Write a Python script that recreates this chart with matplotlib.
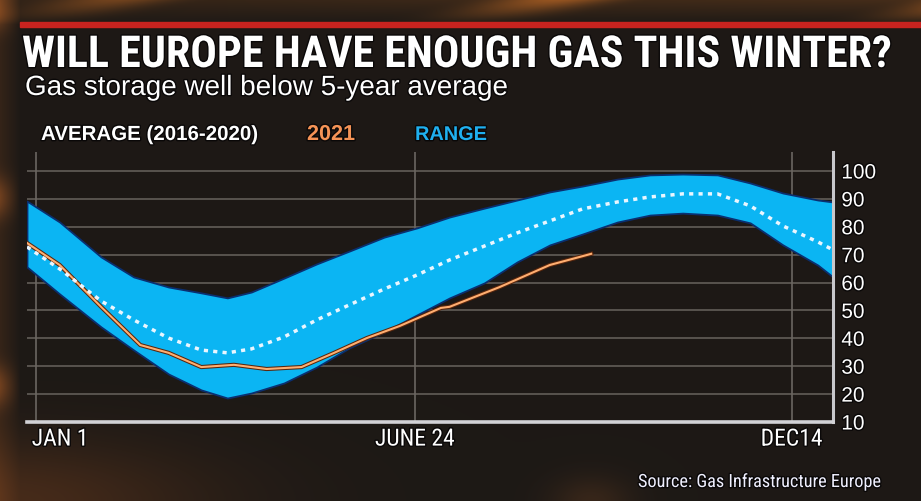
import numpy as np
import matplotlib
matplotlib.use("Agg")
import matplotlib.pyplot as plt
from matplotlib import font_manager
from matplotlib.patches import Rectangle
import matplotlib.patheffects as pe
import matplotlib.transforms as mtransforms

# ---------------- data (day of year, % storage full) ----------------
range_days = [-3, 12, 31, 46, 62, 77, 89, 100, 115, 130, 145, 161, 176, 191,
              207, 222, 237, 252, 268, 283, 298, 314, 329, 344, 360, 367]
range_upper = [89.2, 81.7, 69.2, 62.0, 58.4, 56.3, 54.5, 56.6, 61.6, 66.7, 71.3,
               76.3, 79.6, 83.5, 86.7, 89.6, 92.5, 94.6, 97.1, 98.6, 98.9, 98.6,
               95.7, 92.1, 89.6, 88.9]
range_lower = [65.6, 55.9, 44.1, 35.8, 27.2, 21.5, 18.6, 20.4, 24.0, 29.7, 36.6,
               42.3, 48.4, 54.5, 59.9, 67.4, 73.5, 77.4, 81.7, 84.2, 84.9, 84.2,
               81.4, 73.5, 66.3, 62.0]
average_2016_2020 = [72.8, 64.9, 53.4, 46.6, 40.1, 35.8, 34.8, 36.2, 40.5, 46.6,
                     52.0, 57.7, 62.7, 68.1, 73.1, 77.8, 82.1, 86.4, 88.9, 90.7,
                     91.8, 91.8, 87.5, 80.3, 74.6, 71.7]
days_2021 = [-3, 12, 31, 49, 62, 77, 92, 107, 123, 138, 153, 168, 187, 191,
             214, 237, 256]
values_2021 = [74.2, 66.3, 51.3, 37.6, 34.8, 29.7, 30.5, 29.0, 29.7, 34.8, 40.1,
               44.4, 50.9, 51.3, 58.4, 66.3, 70.3]

x_tick_days = [1, 175, 348]
x_tick_labels = ["JAN 1", "JUNE 24", "DEC14"]
y_ticks = [10, 20, 30, 40, 50, 60, 70, 80, 90, 100]

title = "WILL EUROPE HAVE ENOUGH GAS THIS WINTER?"
subtitle = "Gas storage well below 5-year average"
legend_items = ["AVERAGE (2016-2020)", "2021", "RANGE"]
source = "Source: Gas Infrastructure Europe"

# ---------------- fonts ----------------
names = {f.name for f in font_manager.fontManager.ttflist}


def pick(cands):
    for c in cands:
        if c in names:
            return c
    return "DejaVu Sans"


NARROW = pick(["Roboto Condensed", "Archivo Narrow", "Liberation Sans Narrow",
               "PT Sans Narrow", "Asap Condensed", "Barlow Condensed"])
REG = pick(["Liberation Sans", "Arimo", "Roboto"])

W, H = 921, 501
fig = plt.figure(figsize=(W / 100, H / 100), dpi=100)
fig.patch.set_facecolor("#1d1815")

# ---------------- background ----------------
bg = fig.add_axes([0, 0, 1, 1], zorder=-10)
bg.set_axis_off()
yy, xx = np.mgrid[0:H, 0:W].astype(float)
base = np.array([0.115, 0.098, 0.085])
img = np.ones((H, W, 3)) * base
top = np.clip((24 - yy) / 24, 0, 1)
streak = np.clip(np.sin((xx + 4.0 * yy) / 70.0), 0, 1) ** 3
glow_top = top[..., None] * (0.18 + 0.5 * streak[..., None]) * np.array([0.85, 0.42, 0.08])
img = img + glow_top * (0.5 + 0.5 * (xx / W))[..., None]
left = np.clip((20 - xx) / 20, 0, 1)
lstreak = np.clip(np.sin((yy - 150) / 30.0), 0, 1) ** 4
img = img + left[..., None] * (0.12 + 0.3 * lstreak[..., None]) * np.array([0.75, 0.35, 0.08])
g = np.exp(-(((xx - 0) / 200.0) ** 2 + ((yy - 501) / 60.0) ** 2))
img = img + g[..., None] * np.array([0.16, 0.07, 0.015])
g2 = np.exp(-(((xx - 590) / 40.0) ** 2 + ((yy - 501) / 25.0) ** 2))
img = img + g2[..., None] * np.array([0.10, 0.05, 0.015])
img = np.clip(img, 0, 1)
bg.imshow(img, extent=[0, 1, 0, 1], aspect="auto", origin="upper")
bg.set_xlim(0, 1)
bg.set_ylim(0, 1)

fig.patches.append(Rectangle((20 / W, 1 - 27 / H), 1 - 20 / W, 5 / H,
                             transform=fig.transFigure, color="#c8231f", zorder=-5))

# ---------------- main axes ----------------
ax = fig.add_axes([27 / W, 1 - 422 / H, (833 - 27) / W, (422 - 152) / H])
ax.set_facecolor("none")
ax.set_xlim(-3, 367)
ax.set_ylim(10, 100 + 19 / 2.789)

for v in y_ticks[1:]:
    ax.axhline(v, color="#5d5853", lw=1.3, zorder=1)
for d in x_tick_days:
    ax.axvline(d, color="#6b6661", lw=1.2, zorder=1)

ax.fill_between(range_days, range_lower, range_upper, facecolor="#0bb5f3",
                edgecolor="#0a2f70", lw=1.3, zorder=2)
ax.plot(range_days, average_2016_2020, color="#eaf6ff", lw=2.5,
        linestyle=(0, (1.2, 1.5)), zorder=4)
ax.plot(days_2021, values_2021, color="#ffae70", lw=1.5, zorder=3,
        path_effects=[pe.Stroke(linewidth=3.0, foreground="#5a260c"), pe.Normal()])

for s in ["left", "top"]:
    ax.spines[s].set_visible(False)
ax.spines["bottom"].set_color("#d2d2d6")
ax.spines["bottom"].set_linewidth(2.6)
ax.spines["right"].set_color("#c8c8cc")
ax.spines["right"].set_linewidth(2.2)

ax.set_xticks(x_tick_days)
ax.set_xticklabels(x_tick_labels)
ax.set_yticks(y_ticks)
ax.yaxis.tick_right()
ax.tick_params(axis="both", length=0, colors="white")
ax.tick_params(axis="y", pad=6, labelsize=15)
ax.tick_params(axis="x", pad=4, labelsize=17)
shadow = [pe.withStroke(linewidth=2, foreground="#0a0808")]
for lab in ax.get_yticklabels():
    lab.set_fontfamily(REG)
    lab.set_color("white")
    lab.set_path_effects(shadow)
xl = ax.get_xticklabels()
for lab in xl:
    lab.set_fontfamily(NARROW)
    lab.set_color("white")
    lab.set_path_effects(shadow)
xl[0].set_horizontalalignment("left")
xl[0].set_transform(xl[0].get_transform() +
                    mtransforms.ScaledTranslation(-4 / 100, 0, fig.dpi_scale_trans))

# ---------------- texts ----------------
renderer = fig.canvas.get_renderer()


def fitted_text(x0, x1, baseline_y, s, family, weight, color, size0):
    t = fig.text(x0 / W, 1 - baseline_y / H, s, fontsize=size0, family=family,
                 weight=weight, color=color, ha="left", va="baseline",
                 path_effects=shadow)
    w = t.get_window_extent(renderer=renderer).width
    t.set_fontsize(size0 * (x1 - x0) / w)
    return t


fitted_text(22, 893, 67, title, NARROW, "bold", "white", 28)
fitted_text(25, 507, 95, subtitle, REG, "normal", "white", 20)
fitted_text(41, 258, 140, legend_items[0], REG, "bold", "white", 13)
fitted_text(307, 355, 140, legend_items[1], REG, "bold", "#f59356", 13)
fitted_text(415, 487, 140, legend_items[2], REG, "bold", "#1fb0f0", 13)
fitted_text(638, 880, 487, source, NARROW, "normal", "#f0f0ff", 11)

fig.savefig("out.png", dpi=100, facecolor=fig.get_facecolor())
